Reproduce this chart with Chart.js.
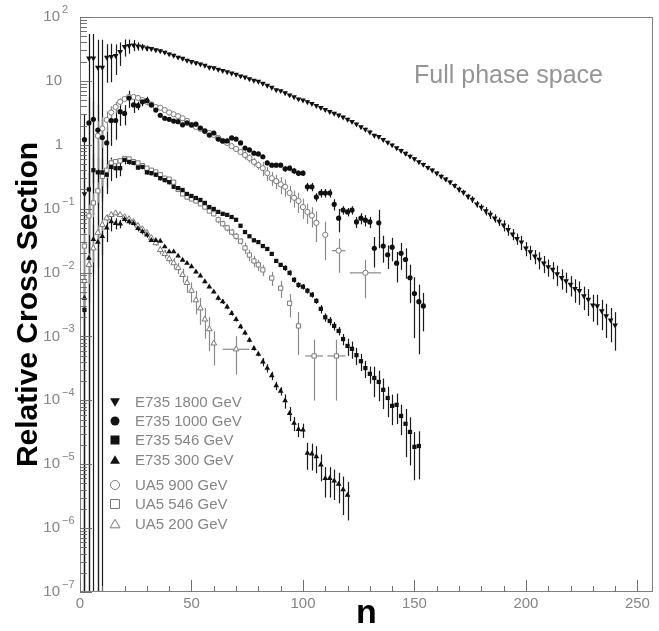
<!DOCTYPE html>
<html>
<head>
<meta charset="utf-8">
<script src="https://cdn.jsdelivr.net/npm/chart.js@4.4.1/dist/chart.umd.min.js"></script>
<style>
  html, body { margin: 0; padding: 0; background: #fff; }
  canvas { display: block; }
</style>
</head>
<body>
<canvas id="grafico" width="659" height="631"></canvas>
<script>
// multiplicidade n e secao de choque relativa, lidas do grafico original
// erros guardados como fracao do valor (erro relativo)

const n_e735_1800 = [2,4,6,8,10,12,14,16,18,20,
  22,24,26,28,30,32,34,36,38,40,
  42,44,46,48,50,52,54,56,58,60,
  62,64,66,68,70,72,74,76,78,80,
  82,84,86,88,90,92,94,96,98,100,
  102,104,106,108,110,112,114,116,118,120,
  122,124,126,128,130,132,134,136,138,140,
  142,144,146,148,150,152,154,156,158,160,
  162,164,166,168,170,172,174,176,178,180,
  182,184,186,188,190,192,194,196,198,200,
  202,204,206,208,210,212,214,216,218,220,
  222,224,226,228,230,232,234,236,238,240];
const v_e735_1800 = [0.17,22.6,22.6,16.3,16.3,23.4,23.9,24.8,28.6,34.3,
  35.5,36.4,35.0,34.0,32.4,32.0,30.5,29.4,28.0,26.3,
  25.1,23.4,22.4,20.9,20.0,19.1,18.2,17.4,16.3,16.0,
  15.1,14.5,13.8,13.2,12.6,11.9,11.4,10.7,10.2,9.8,
  9.1,8.5,7.9,7.2,7.0,6.5,6.0,5.6,5.2,5.0,
  4.7,4.4,4.1,3.8,3.55,3.3,3.1,2.9,2.7,2.5,
  2.3,2.1,1.9,1.74,1.58,1.40,1.34,1.2,1.09,0.99,
  0.89,0.81,0.73,0.66,0.60,0.54,0.49,0.44,0.40,0.36,
  0.32,0.29,0.26,0.23,0.20,0.18,0.155,0.140,0.118,0.105,
  0.092,0.081,0.071,0.063,0.055,0.047,0.040,0.034,0.030,0.024,
  0.021,0.018,0.016,0.014,0.0123,0.0112,0.0095,0.0083,0.0074,0.0065,
  0.0056,0.0052,0.0043,0.0038,0.0031,0.0030,0.0025,0.0021,0.0018,0.0015];
const err_e735_1800 = [2.0,1.4,1.4,1.7,1.7,0.6,0.6,0.5,0.4,0.3,
  0.25,0.2,0.15,0.12,0.1,0.06,0.06,0.06,0.06,0.06,
  0.06,0.06,0.06,0.06,0.06,0.06,0.06,0.06,0.06,0.06,
  0.05,0.05,0.05,0.05,0.05,0.05,0.05,0.05,0.05,0.05,
  0.05,0.05,0.05,0.05,0.05,0.05,0.05,0.05,0.05,0.05,
  0.06,0.06,0.06,0.06,0.06,0.06,0.06,0.06,0.06,0.06,
  0.06,0.06,0.06,0.06,0.06,0.06,0.06,0.06,0.06,0.06,
  0.07,0.07,0.07,0.07,0.07,0.07,0.07,0.07,0.07,0.07,
  0.08,0.08,0.08,0.08,0.1,0.1,0.1,0.12,0.12,0.12,
  0.15,0.15,0.15,0.15,0.2,0.2,0.2,0.2,0.25,0.25,
  0.25,0.25,0.3,0.3,0.3,0.3,0.35,0.35,0.35,0.35,
  0.4,0.4,0.4,0.45,0.45,0.5,0.5,0.55,0.55,0.6];

const n_e735_1000 = [2,4,6,8,10,12,14,16,18,20,
  22,24,26,28,30,32,34,36,38,40,
  42,44,46,48,50,52,54,56,58,60,
  62,64,66,68,70,72,74,76,78,80,
  82,84,86,88,90,92,94,96,98,100,
  102,104,106,108,110,112,114,116,118,120,
  122,124,126,128,130,132,134,136,138,140,
  142,144,146,148,150,152,154];
const v_e735_1000 = [1.2,2.2,2.5,1.7,1.3,1.07,2.4,2.4,3.3,3.1,
  5.4,4.2,4.1,4.7,4.9,4.2,3.5,2.9,2.6,2.5,
  2.35,2.3,2.05,2.2,2.05,2.1,1.83,1.64,1.42,1.53,
  1.23,1.15,1.15,1.28,1.23,1.07,0.89,0.83,0.74,0.72,
  0.65,0.52,0.48,0.48,0.48,0.42,0.43,0.39,0.36,0.36,
  0.22,0.22,0.152,0.176,0.176,0.176,0.117,0.071,0.095,0.089,
  0.095,0.062,0.071,0.066,0.062,0.024,0.060,0.026,0.019,0.025,
  0.014,0.020,0.016,0.0083,0.0047,0.0035,0.0030];
const err_e735_1000 = [1.5,1.5,0.9,1.5,0.9,0.8,0.6,0.5,0.4,0.35,
  0.3,0.25,0.15,0.15,0.15,0.08,0.08,0.08,0.08,0.08,
  0.08,0.08,0.08,0.08,0.08,0.08,0.08,0.08,0.08,0.08,
  0.08,0.08,0.08,0.08,0.08,0.08,0.08,0.08,0.08,0.08,
  0.08,0.08,0.08,0.08,0.08,0.1,0.1,0.1,0.1,0.1,
  0.15,0.15,0.15,0.15,0.15,0.15,0.2,0.4,0.15,0.15,
  0.15,0.2,0.2,0.2,0.2,0.5,0.6,0.45,0.4,0.4,
  0.5,0.45,0.5,0.6,0.8,0.85,0.6];

const n_e735_546 = [2,4,6,8,10,12,14,16,18,20,
  22,24,26,28,30,32,34,36,38,40,
  42,44,46,48,50,52,54,56,58,60,
  62,64,66,68,70,72,74,76,78,80,
  82,84,86,88,90,92,94,96,98,100,
  102,104,106,108,110,112,114,116,118,120,
  122,124,126,128,130,132,134,136,138,140,
  142,144,146,148,150,152];
const v_e735_546 = [0.0026,0.20,0.40,0.37,0.37,0.34,0.45,0.43,0.43,0.58,
  0.54,0.52,0.44,0.45,0.37,0.36,0.34,0.30,0.28,0.26,
  0.22,0.21,0.196,0.17,0.158,0.147,0.137,0.123,0.106,0.099,
  0.089,0.083,0.080,0.074,0.067,0.054,0.043,0.037,0.032,0.030,
  0.026,0.0234,0.0196,0.0152,0.0132,0.0118,0.0099,0.0077,0.0064,0.0060,
  0.0052,0.0045,0.0036,0.0027,0.0020,0.00175,0.00146,0.00122,0.00091,0.00071,
  0.00064,0.00051,0.00041,0.00032,0.00026,0.000224,0.000194,0.000146,0.000109,0.000082,
  0.000085,0.000057,0.000043,0.000032,0.0000187,0.0000193];
const err_e735_546 = [2.0,0.9,0.8,0.7,0.6,0.5,0.4,0.3,0.25,0.15,
  0.1,0.08,0.08,0.08,0.08,0.08,0.08,0.08,0.08,0.08,
  0.05,0.05,0.05,0.05,0.05,0.05,0.05,0.05,0.05,0.05,
  0.05,0.05,0.05,0.05,0.05,0.05,0.05,0.05,0.05,0.05,
  0.05,0.05,0.05,0.05,0.05,0.1,0.1,0.1,0.1,0.1,
  0.1,0.1,0.1,0.15,0.15,0.15,0.15,0.15,0.2,0.3,
  0.3,0.3,0.3,0.3,0.3,0.5,0.5,0.5,0.5,0.5,
  0.5,0.5,0.7,0.7,0.7,0.7];

const n_e735_300 = [2,4,6,8,10,12,14,16,18,20,
  22,24,26,28,30,32,34,36,38,40,
  42,44,46,48,50,52,54,56,58,60,
  62,64,66,68,70,72,74,76,78,80,
  82,84,86,88,90,92,94,96,98,100,
  102,104,106,108,110,112,114,116,118,120];
const v_e735_300 = [0.0040,0.0169,0.033,0.030,0.037,0.050,0.063,0.059,0.058,0.068,
  0.063,0.059,0.049,0.044,0.039,0.032,0.032,0.031,0.0254,0.0212,
  0.0212,0.0182,0.0157,0.0140,0.0124,0.0103,0.0089,0.0072,0.0060,0.0050,
  0.0040,0.0035,0.0029,0.0023,0.00186,0.00142,0.00114,0.00088,0.00065,0.00053,
  0.00040,0.00032,0.000244,0.00017,0.00014,0.0000989,0.0000628,0.0000439,0.0000353,0.0000344,
  0.0000149,0.0000145,0.0000132,0.0000098,0.0000060,0.0000060,0.0000055,0.0000049,0.0000040,0.0000033];
const err_e735_300 = [0.9,0.8,0.7,0.6,0.5,0.4,0.3,0.2,0.15,0.1,
  0.1,0.1,0.1,0.1,0.1,0.05,0.05,0.05,0.05,0.05,
  0.05,0.05,0.05,0.05,0.05,0.05,0.05,0.05,0.05,0.05,
  0.08,0.08,0.08,0.08,0.08,0.08,0.08,0.08,0.08,0.08,
  0.15,0.15,0.15,0.15,0.15,0.25,0.25,0.25,0.25,0.25,
  0.45,0.45,0.45,0.45,0.5,0.5,0.5,0.5,0.6,0.6];

const n_ua5_900 = [8,10,12,14,16,18,20,22,24,26,
  28,30,32,34,36,38,40,42,44,46,
  48,50,52,54,56,58,60,62,64,66,
  68,70,72,74,76,78,80,82,84,86,
  88,90,92,94,96,98,100,102,104,106,
  110,116,128];
const v_ua5_900 = [1.38,1.8,2.45,3.2,3.9,4.7,5.2,5.6,5.6,5.4,
  5.0,4.7,4.3,3.9,3.8,3.5,3.2,3.0,2.8,2.6,
  2.36,2.04,1.9,1.77,1.64,1.53,1.42,1.28,1.15,1.07,
  0.95,0.86,0.77,0.69,0.62,0.54,0.48,0.43,0.36,0.30,
  0.27,0.24,0.22,0.176,0.148,0.132,0.106,0.089,0.078,0.060,
  0.039,0.022,0.0099];
const err_ua5_900 = [0.7,0.5,0.35,0.25,0.2,0.12,0.06,0.06,0.06,0.06,
  0.06,0.06,0.06,0.06,0.06,0.06,0.06,0.06,0.06,0.06,
  0.08,0.08,0.08,0.08,0.08,0.08,0.08,0.08,0.08,0.08,
  0.1,0.1,0.1,0.15,0.15,0.15,0.15,0.25,0.25,0.25,
  0.25,0.3,0.3,0.3,0.3,0.35,0.35,0.35,0.35,0.5,
  0.6,0.55,0.6];
const largura_ua5_900 = { 116: 3, 128: 7 };

const n_ua5_546 = [2,4,6,8,10,12,14,16,18,20,
  22,24,26,28,30,32,34,36,38,40,
  42,44,46,48,50,52,54,56,58,60,
  62,64,66,68,70,72,74,76,78,80,
  82,86,90,94,98,105,115];
const v_ua5_546 = [0.026,0.077,0.123,0.19,0.32,0.40,0.52,0.545,0.56,0.61,
  0.60,0.545,0.52,0.47,0.43,0.40,0.375,0.34,0.30,0.29,
  0.26,0.20,0.17,0.152,0.142,0.132,0.119,0.106,0.092,0.083,
  0.067,0.058,0.050,0.043,0.037,0.031,0.0243,0.0188,0.0152,0.0132,
  0.011,0.0082,0.0057,0.0033,0.00146,0.000495,0.000495];
const err_ua5_546 = [0.6,0.5,0.4,0.35,0.3,0.25,0.15,0.1,0.06,0.06,
  0.06,0.06,0.06,0.06,0.06,0.06,0.06,0.06,0.06,0.06,
  0.08,0.08,0.08,0.08,0.08,0.08,0.08,0.08,0.08,0.08,
  0.12,0.12,0.12,0.12,0.12,0.12,0.2,0.2,0.2,0.2,
  0.2,0.25,0.3,0.4,0.65,0.8,0.8];
const largura_ua5_546 = { 105: 4, 115: 4 };

const n_ua5_200 = [2,4,6,8,10,12,14,16,18,20,
  22,24,26,28,30,32,34,36,38,40,
  42,44,46,48,50,52,54,56,58,60,
  70];
const v_ua5_200 = [0.0074,0.0132,0.024,0.042,0.056,0.071,0.080,0.085,0.080,0.074,
  0.069,0.062,0.054,0.048,0.042,0.035,0.029,0.0226,0.0196,0.0163,
  0.0141,0.0118,0.0092,0.0069,0.0052,0.0037,0.00276,0.00185,0.0013,0.00078,
  0.00063];
const err_ua5_200 = [0.6,0.5,0.4,0.3,0.2,0.15,0.08,0.08,0.08,0.08,
  0.08,0.08,0.1,0.1,0.1,0.1,0.1,0.15,0.15,0.15,
  0.2,0.2,0.25,0.3,0.35,0.4,0.45,0.5,0.55,0.55,
  0.6];
const largura_ua5_200 = { 70: 6 };

// eixos
const ticks_x = [0, 50, 100, 150, 200, 250];
const expoentes_y = [-7, -6, -5, -4, -3, -2, -1, 0, 1, 2];

const series = [
  { nome: 'E735 1800 GeV', n: n_e735_1800, valores: v_e735_1800, erros: err_e735_1800, largos: {}, estilo: 'down', cheio: true },
  { nome: 'E735 1000 GeV', n: n_e735_1000, valores: v_e735_1000, erros: err_e735_1000, largos: {}, estilo: 'circle', cheio: true },
  { nome: 'E735 546 GeV', n: n_e735_546, valores: v_e735_546, erros: err_e735_546, largos: {}, estilo: 'rect', cheio: true },
  { nome: 'E735 300 GeV', n: n_e735_300, valores: v_e735_300, erros: err_e735_300, largos: {}, estilo: 'triangle', cheio: true },
  { nome: 'UA5 900 GeV', n: n_ua5_900, valores: v_ua5_900, erros: err_ua5_900, largos: largura_ua5_900, estilo: 'circle', cheio: false },
  { nome: 'UA5 546 GeV', n: n_ua5_546, valores: v_ua5_546, erros: err_ua5_546, largos: largura_ua5_546, estilo: 'rect', cheio: false },
  { nome: 'UA5 200 GeV', n: n_ua5_200, valores: v_ua5_200, erros: err_ua5_200, largos: largura_ua5_200, estilo: 'triangle', cheio: false }
];

const COR_CHEIO = '#111';
const COR_ABERTO = '#7a7a7a';
const COR_TEXTO = '#858585';

// desenha um marcador da legenda (mesma forma dos pontos)
function desenharMarcador(ctx, estilo, x, y, r, cheio) {
  ctx.beginPath();
  if (estilo === 'circle') {
    ctx.arc(x, y, r, 0, Math.PI * 2);
  } else if (estilo === 'rect') {
    ctx.rect(x - r, y - r, 2 * r, 2 * r);
  } else if (estilo === 'triangle') {
    ctx.moveTo(x, y - r * 1.05);
    ctx.lineTo(x + r * 1.1, y + r * 0.85);
    ctx.lineTo(x - r * 1.1, y + r * 0.85);
    ctx.closePath();
  } else {
    ctx.moveTo(x, y + r * 1.05);
    ctx.lineTo(x + r * 1.1, y - r * 0.85);
    ctx.lineTo(x - r * 1.1, y - r * 0.85);
    ctx.closePath();
  }
  if (cheio) {
    ctx.fillStyle = COR_CHEIO;
    ctx.fill();
  } else {
    ctx.strokeStyle = COR_ABERTO;
    ctx.lineWidth = 1;
    ctx.stroke();
  }
}

// barras de erro (verticais e, para bins largos, horizontais)
const pluginErros = {
  id: 'erros',
  beforeDatasetsDraw(chart) {
    const { ctx, chartArea: a, scales: { x, y } } = chart;
    ctx.save();
    ctx.beginPath();
    ctx.rect(a.left, a.top, a.right - a.left, a.bottom - a.top);
    ctx.clip();
    chart.data.datasets.forEach(ds => {
      ctx.strokeStyle = ds.corErro;
      ctx.lineWidth = 1.2;
      ds.data.forEach((p, i) => {
        const e = p.y * ds.erros[i];
        const px = Math.round(x.getPixelForValue(p.x)) + 0.5;
        const topo = y.getPixelForValue(p.y + e);
        const base = (p.y - e) > 0 ? y.getPixelForValue(p.y - e) : a.bottom;
        ctx.beginPath();
        ctx.moveTo(px, topo);
        ctx.lineTo(px, base);
        ctx.stroke();
        const w = ds.largos[p.x];
        if (w) {
          const py = y.getPixelForValue(p.y);
          ctx.beginPath();
          ctx.moveTo(x.getPixelForValue(p.x - w), py);
          ctx.lineTo(x.getPixelForValue(p.x + w), py);
          ctx.stroke();
        }
      });
    });
    ctx.restore();
  }
};

// moldura, ticks internos (estilo ROOT), rotulos do eixo y, nota e legenda
const pluginMoldura = {
  id: 'moldura',
  afterDraw(chart) {
    const { ctx, chartArea: a, scales: { x, y } } = chart;
    ctx.save();
    ctx.strokeStyle = '#808080';
    ctx.lineWidth = 1;
    ctx.strokeRect(a.left + 0.5, a.top + 0.5, a.right - a.left - 1, a.bottom - a.top - 1);

    ctx.strokeStyle = '#707070';
    ctx.beginPath();
    expoentes_y.forEach(k => {
      for (let m = 1; m <= 9; m++) {
        if (k === 2 && m > 1) break;
        const py = Math.round(y.getPixelForValue(m * Math.pow(10, k))) + 0.5;
        const len = m === 1 ? 12 : 7;
        ctx.moveTo(a.left, py);
        ctx.lineTo(a.left + len, py);
      }
    });
    for (let t = 0; t <= 250; t += 10) {
      const px = Math.round(x.getPixelForValue(t)) + 0.5;
      const len = t % 50 === 0 ? 12 : 6;
      ctx.moveTo(px, a.bottom);
      ctx.lineTo(px, a.bottom - len);
    }
    ctx.stroke();

    // rotulos 10^k
    ctx.fillStyle = COR_TEXTO;
    ctx.textBaseline = 'middle';
    expoentes_y.forEach(k => {
      const py = y.getPixelForValue(Math.pow(10, k));
      ctx.font = '15px "Liberation Sans", Arial, sans-serif';
      ctx.textAlign = 'right';
      if (k === 0) {
        ctx.fillText('1', 63, py);
      } else if (k === 1) {
        ctx.fillText('10', 62, py);
      } else {
        ctx.fillText('10', 60, py);
        ctx.textAlign = 'left';
        ctx.font = '11px "Liberation Sans", Arial, sans-serif';
        ctx.fillText(k < 0 ? '\u2212' + (-k) : String(k), 62, py - 7);
      }
    });

    // nota
    ctx.font = '25px "Liberation Sans", Arial, sans-serif';
    ctx.textAlign = 'left';
    ctx.fillStyle = '#959595';
    ctx.fillText('Full phase space', 414, 76);

    // legenda
    const linhas = [402, 421, 440, 460, 485, 504, 524];
    ctx.font = '15px "Liberation Sans", Arial, sans-serif';
    series.forEach((s, i) => {
      desenharMarcador(ctx, s.estilo, 115, linhas[i], 4.5, s.cheio);
      ctx.fillStyle = COR_TEXTO;
      ctx.fillText(s.nome, 135, linhas[i] + 1);
    });
    ctx.restore();
  }
};

function grafico_multiplicidade(config) {
  const { id, titulo_x, titulo_y, dados } = config;
  const canvas = document.getElementById(id);

  const raios = { down: 3.3, triangle: 3.3, circle: 2.6, rect: 3.0 };

  const datasets = dados.map(s => ({
    label: s.nome,
    data: s.n.map((n, i) => ({ x: n, y: s.valores[i] })),
    erros: s.erros,
    largos: s.largos,
    corErro: s.cheio ? '#1a1a1a' : '#8a8a8a',
    pointStyle: s.estilo === 'down' ? 'triangle' : s.estilo,
    rotation: s.estilo === 'down' ? 180 : 0,
    pointRadius: raios[s.estilo],
    pointHoverRadius: raios[s.estilo],
    backgroundColor: s.cheio ? COR_CHEIO : '#ffffff',
    borderColor: s.cheio ? COR_CHEIO : COR_ABERTO,
    borderWidth: s.cheio ? 0 : 1,
    showLine: false
  }));

  return new Chart(canvas, {
    type: 'scatter',
    data: { datasets },
    options: {
      responsive: false,
      animation: false,
      devicePixelRatio: 1,
      layout: { padding: { left: 0, right: 6, top: 17, bottom: 0 } },
      plugins: {
        legend: { display: false },
        tooltip: { enabled: false }
      },
      scales: {
        x: {
          type: 'linear',
          min: 0,
          max: 257,
          grid: { display: false, drawTicks: false },
          border: { display: false },
          afterBuildTicks: s => { s.ticks = ticks_x.map(v => ({ value: v })); },
          ticks: {
            color: COR_TEXTO,
            font: { family: 'Liberation Sans', size: 15 },
            padding: 3,
            maxRotation: 0,
            autoSkip: false
          },
          title: {
            display: true,
            text: titulo_x,
            color: '#000',
            font: { family: 'Liberation Sans', size: 34, weight: 'bold', lineHeight: 1 },
            padding: { top: 0, bottom: 0 }
          },
          afterFit: s => { s.height = 39; }
        },
        y: {
          type: 'logarithmic',
          min: 1e-7,
          max: 100,
          grid: { display: false, drawTicks: false },
          border: { display: false },
          ticks: { display: false },
          title: {
            display: true,
            text: titulo_y,
            color: '#000',
            font: { family: 'Liberation Sans', size: 30, weight: 'bold', lineHeight: 1 },
            padding: { top: 14, bottom: 0 }
          },
          afterFit: s => { s.width = 80; }
        }
      }
    },
    plugins: [pluginErros, pluginMoldura]
  });
}

const grafico = grafico_multiplicidade({
  id: 'grafico',
  titulo_x: 'n',
  titulo_y: 'Relative Cross Section',
  dados: series
});
</script>
</body>
</html>
